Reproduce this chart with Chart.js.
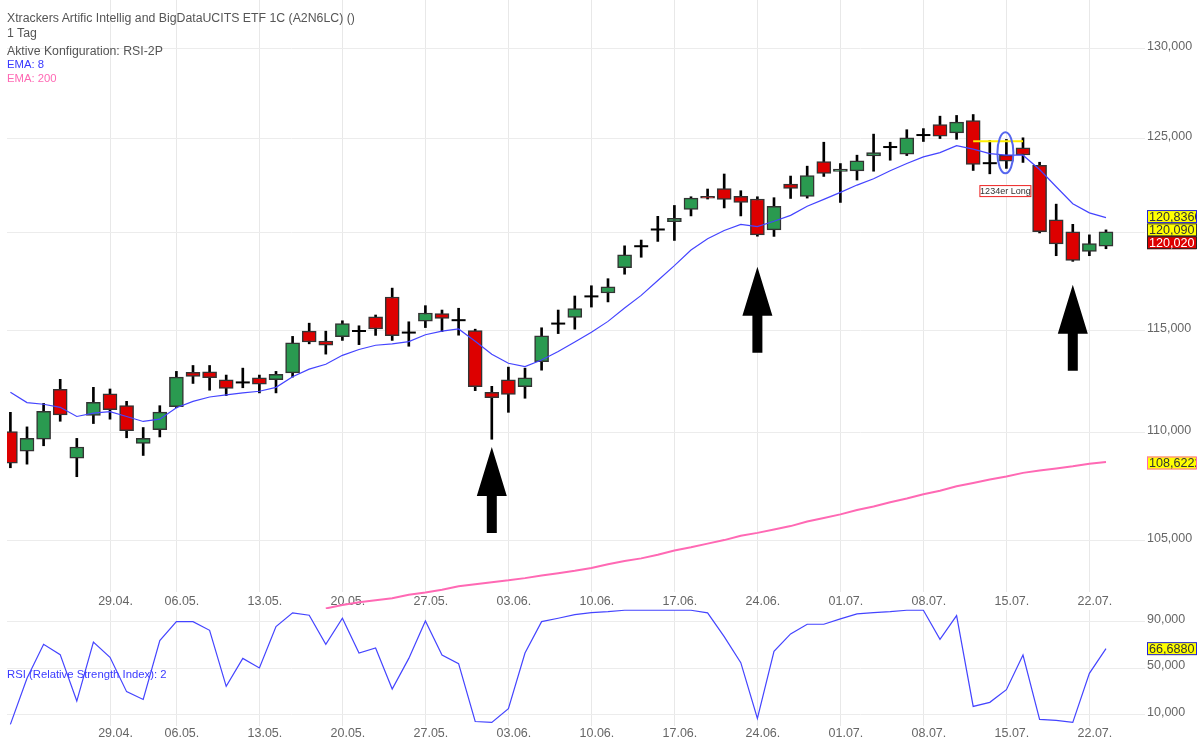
<!DOCTYPE html>
<html lang="de">
<head>
<meta charset="utf-8">
<title>Xtrackers Artific Intellig and BigData</title>
<script src="https://cdn.jsdelivr.net/npm/chart.js@4/dist/chart.umd.min.js"></script>
<style>
  html, body { margin: 0; padding: 0; background: #fff; }
  #stage { position: relative; width: 1200px; height: 743px; overflow: hidden; font-family: "Liberation Sans", Arial, sans-serif; }
  #stage canvas { position: absolute; left: 0; top: 0; }
  .txt { position: absolute; left: 7px; font-size: 12.3px; line-height: 14px; color: #555; white-space: nowrap; }
  .ind { font-size: 11.3px; }
</style>
</head>
<body>
<div id="stage">
  <canvas id="priceChart" width="1200" height="743"></canvas>
  <canvas id="rsiChart" width="1200" height="743"></canvas>
  <div class="txt" style="top:11px">Xtrackers Artific Intellig and BigDataUCITS ETF 1C (A2N6LC) ()</div>
  <div class="txt" style="top:26px">1 Tag</div>
  <div class="txt" style="top:44px">Aktive Konfiguration: RSI-2P</div>
  <div class="txt ind" style="top:57px;color:#3a3aff">EMA: 8</div>
  <div class="txt ind" style="top:71px;color:#ff69b4">EMA: 200</div>
  <div class="txt ind" style="top:667px;color:#3a3aff">RSI (Relative Strength Index): 2</div>
</div>
<script>
// ── Data ──
const weekTicks  = [6, 10, 15, 20, 25, 30, 35, 40, 45, 50, 55, 60, 65];
const weekLabels = ['29.04.', '06.05.', '13.05.', '20.05.', '27.05.', '03.06.', '10.06.', '17.06.', '24.06.', '01.07.', '08.07.', '15.07.', '22.07.'];
const priceTicks = [105, 110, 115, 120, 125, 130];
const rsiTicks   = [10, 50, 90];

const open = [
  110.07, 109.13, 109.70, 112.10, 108.80, 110.84, 111.89, 111.31, 109.50, 110.16,
  111.26, 112.93, 112.96, 112.57, 112.44, 112.67, 112.57, 112.91, 114.97, 114.48,
  114.69, 114.98, 115.69, 116.69, 114.90, 115.47, 115.85, 115.52, 115.00, 111.96,
  112.57, 112.23, 113.46, 115.35, 115.66, 116.72, 116.89, 118.19, 119.29, 120.16,
  120.57, 121.21, 121.90, 122.32, 121.90, 121.76, 120.14, 122.55, 121.90, 123.76,
  123.23, 123.26, 124.06, 124.54, 124.15, 125.19, 125.76, 125.31, 125.98, 123.67,
  124.10, 124.50, 123.55, 120.66, 120.04, 119.02, 119.29
];
const high = [
  110.99, 110.29, 111.42, 112.59, 109.74, 112.20, 112.12, 111.52, 110.26, 111.31,
  112.98, 113.27, 113.27, 112.80, 113.14, 112.80, 112.98, 114.71, 115.37, 114.97,
  115.49, 115.24, 115.78, 117.14, 115.44, 116.25, 116.03, 116.12, 115.07, 112.25,
  113.19, 113.14, 115.14, 116.03, 116.74, 117.26, 117.62, 119.31, 119.61, 120.85,
  121.42, 121.88, 122.29, 123.09, 122.20, 121.88, 121.83, 122.98, 123.51, 124.80,
  123.65, 124.10, 125.24, 124.80, 125.48, 125.54, 126.22, 126.26, 126.31, 124.89,
  124.95, 125.04, 123.72, 121.49, 120.43, 119.88, 120.14
];
const low = [
  108.35, 108.52, 109.39, 110.56, 107.93, 110.45, 110.66, 109.77, 108.93, 109.81,
  111.21, 112.39, 112.06, 111.80, 112.18, 111.93, 111.93, 112.70, 114.34, 113.83,
  114.51, 114.30, 114.76, 114.51, 114.22, 115.15, 114.95, 114.77, 112.04, 109.70,
  110.99, 111.67, 113.04, 114.85, 115.07, 116.18, 116.44, 117.85, 118.72, 119.54,
  119.59, 120.87, 121.76, 121.29, 120.87, 119.81, 119.80, 121.79, 121.81, 122.96,
  121.58, 122.77, 123.24, 123.83, 124.08, 124.84, 125.00, 124.96, 123.28, 123.10,
  123.39, 123.71, 119.98, 118.80, 118.51, 118.80, 119.16
];
const close = [
  108.57, 109.74, 111.04, 110.87, 109.33, 111.47, 111.12, 110.11, 109.74, 111.00,
  112.70, 112.73, 112.67, 112.15, 112.44, 112.36, 112.83, 114.39, 114.43, 114.27,
  115.35, 114.98, 115.08, 114.74, 114.90, 115.88, 115.61, 115.52, 112.23, 111.70,
  111.86, 112.67, 114.74, 115.35, 116.10, 116.72, 117.21, 118.85, 119.29, 120.16,
  120.74, 121.81, 121.81, 121.74, 121.58, 119.88, 121.38, 122.32, 123.01, 123.12,
  123.35, 123.79, 124.24, 124.54, 125.04, 125.19, 125.13, 125.89, 123.60, 123.67,
  123.78, 124.11, 120.04, 119.41, 118.56, 119.43, 120.04
];
const ema8 = [
  111.96, 111.46, 111.38, 111.23, 110.79, 110.95, 111.02, 110.79, 110.55, 110.66,
  111.21, 111.52, 111.73, 111.83, 111.93, 112.01, 112.20, 112.72, 113.09, 113.33,
  113.77, 114.06, 114.27, 114.34, 114.45, 114.79, 114.97, 115.08, 114.47, 113.82,
  113.38, 113.22, 113.54, 113.96, 114.43, 114.92, 115.46, 116.13, 116.77, 117.53,
  118.29, 119.09, 119.68, 120.11, 120.43, 120.31, 120.59, 120.90, 121.38, 121.74,
  122.11, 122.50, 122.84, 123.26, 123.65, 124.01, 124.24, 124.61, 124.43, 124.18,
  124.10, 124.10, 123.33, 122.41, 121.51, 121.03, 120.78
];
const ema200First = 19;
const ema200 = [
  101.93, 102.08, 102.20, 102.29, 102.38, 102.54, 102.64, 102.76, 102.92, 103.01,
  103.10, 103.18, 103.28, 103.40, 103.50, 103.61, 103.74, 103.90, 104.05, 104.17,
  104.33, 104.53, 104.67, 104.84, 105.00, 105.20, 105.33, 105.48, 105.64, 105.85,
  106.01, 106.18, 106.38, 106.54, 106.74, 106.91, 107.11, 107.27, 107.48, 107.64,
  107.80, 107.94, 108.11, 108.22, 108.32, 108.42, 108.54, 108.62
];
const rsi = [
  1.4, 41.1, 70.4, 61.5, 21.5, 72.4, 59.2, 29.6, 22.9, 73.6,
  90.0, 90.0, 82.5, 34.2, 58.3, 50.0, 85.7, 97.5, 95.5, 70.4,
  92.9, 62.9, 67.3, 31.9, 58.3, 90.6, 61.2, 53.7, 3.9, 3.1,
  14.9, 62.9, 90.0, 92.9, 96.0, 97.8, 98.6, 99.8, 99.8, 99.8,
  99.8, 99.8, 97.5, 77.0, 54.6, 6.5, 64.4, 79.4, 87.7, 87.7,
  92.3, 96.6, 97.8, 98.6, 99.8, 99.8, 74.7, 95.2, 16.9, 20.4,
  31.3, 61.2, 5.7, 4.8, 3.1, 45.4, 66.69
];

// Drawn annotations
const arrowDays   = [29, 45, 64];
const arrowPrices = [109.33, 118.23, 117.31];
const stopDays    = [58, 61];
const stopPrice   = 124.85;
const signalDay   = 60;
const signalPrice = 124.23;
const signalLabelPrice = 122.18;

const lastPriceTexts  = ['120,8360', '120,090', '120,020', '108,6222'];
const lastPriceValues = [120.836, 120.09, 120.02, 108.6222];
const lastRsiText     = '66,6880';
const lastRsiValue    = 66.688;

// ── Shared chart setup ──
const FONT = "'Liberation Sans', Arial, sans-serif";
const X_MIN = -0.205, X_MAX = 68.35;
const TICK_COLOR = '#666', GRID_COLOR = '#ececec';
const UP = '#2a9a50', DOWN = '#dd0000', EDGE = '#333', BLUE = '#4444ff', PINK = '#ff69b4';

Chart.defaults.font.family = FONT;
Chart.defaults.font.size = 12.5;
Chart.defaults.animation = false;

function noPadding(scale) {
  scale.paddingTop = scale.paddingBottom = scale.paddingLeft = scale.paddingRight = 0;
}

function xAxis(labelPad) {
  return {
    type: 'linear', min: X_MIN, max: X_MAX, offset: false, bounds: 'data',
    grid: { color: '#e8e8e8', drawTicks: false, offset: false },
    border: { display: false },
    ticks: {
      color: TICK_COLOR, padding: labelPad, labelOffset: 5.5, autoSkip: false, maxRotation: 0,
      callback: v => weekLabels[weekTicks.indexOf(v)]
    },
    afterBuildTicks: s => { s.ticks = weekTicks.map(v => ({ value: v })); },
    afterFit: s => { s.height = 20; noPadding(s); }
  };
}

function yAxis(type, min, max, tickValues, fmt) {
  return {
    type, min, max, position: 'right', bounds: 'data',
    grid: { color: GRID_COLOR, drawTicks: false },
    border: { display: false },
    ticks: { color: TICK_COLOR, padding: 2, labelOffset: -2, autoSkip: false, callback: fmt },
    afterBuildTicks: s => { s.ticks = tickValues.map(v => ({ value: v })); },
    afterFit: s => { s.width = 55; noPadding(s); }
  };
}

const num3 = v => Number(v).toFixed(3).replace('.', ',');

function valueBox(ctx, text, cy, fill, edge, textColor) {
  const x = 1147, w = 49, h = 13;
  ctx.save();
  ctx.fillStyle = fill;
  ctx.fillRect(x, cy - h / 2, w, h);
  ctx.strokeStyle = edge;
  ctx.lineWidth = 1;
  ctx.strokeRect(x + .5, cy - h / 2 + .5, w, h - 1);
  ctx.beginPath();
  ctx.rect(x, cy - h / 2, w, h);
  ctx.clip();
  ctx.fillStyle = textColor;
  ctx.font = '12.6px ' + FONT;
  ctx.textBaseline = 'middle';
  ctx.fillText(text, x + 2, cy + .5);
  ctx.restore();
}

// ── Price pane overlays: arrows, signal mark, last values ──
const priceOverlay = {
  id: 'priceOverlay',
  afterDatasetsDraw(chart) {
    const { ctx, scales: { x, y } } = chart;

    ctx.save();
    ctx.fillStyle = '#000';
    arrowDays.forEach((day, i) => {
      const px = x.getPixelForValue(day), tip = y.getPixelForValue(arrowPrices[i]);
      ctx.beginPath();
      ctx.moveTo(px, tip);
      ctx.lineTo(px + 15, tip + 49);
      ctx.lineTo(px + 5, tip + 49);
      ctx.lineTo(px + 5, tip + 86);
      ctx.lineTo(px - 5, tip + 86);
      ctx.lineTo(px - 5, tip + 49);
      ctx.lineTo(px - 15, tip + 49);
      ctx.closePath();
      ctx.fill();
    });

    const sx = x.getPixelForValue(signalDay) - 1;
    ctx.strokeStyle = '#5566ee';
    ctx.lineWidth = 2;
    ctx.beginPath();
    ctx.ellipse(sx, y.getPixelForValue(signalPrice), 8, 20.5, 0, 0, Math.PI * 2);
    ctx.stroke();

    const ly = y.getPixelForValue(signalLabelPrice);
    ctx.fillStyle = '#fff';
    ctx.strokeStyle = '#ee2222';
    ctx.lineWidth = 1;
    ctx.fillRect(sx - 26, ly - 6, 52, 12);
    ctx.strokeRect(sx - 26 + .5, ly - 6 + .5, 51, 11);
    ctx.fillStyle = '#333';
    ctx.font = '9px ' + FONT;
    ctx.textAlign = 'center';
    ctx.textBaseline = 'middle';
    ctx.fillText('1234er Long', sx, ly + .5);
    ctx.restore();

    const boxY = lastPriceValues.map(v => y.getPixelForValue(v));
    valueBox(ctx, lastPriceTexts[0], boxY[0], '#ffff00', '#2222dd', '#333');
    valueBox(ctx, lastPriceTexts[1], boxY[1] - 1, '#ffff00', '#333', '#333');
    valueBox(ctx, lastPriceTexts[2], boxY[2] + 10.5, '#dd0000', '#222', '#fff');
    valueBox(ctx, lastPriceTexts[3], boxY[3] + 1, '#ffff00', PINK, '#333');
  }
};

const rsiOverlay = {
  id: 'rsiOverlay',
  afterDatasetsDraw(chart) {
    valueBox(chart.ctx, lastRsiText, chart.scales.y.getPixelForValue(lastRsiValue), '#ffff00', '#2222dd', '#333');
  }
};

// ── Price chart: wicks and bodies are floating bars on a log scale ──
const days = open.map((_, i) => i);
const isDoji = i => open[i] === close[i];
const bodyDays = days.filter(i => !isDoji(i));

new Chart(document.getElementById('priceChart'), {
  type: 'bar',
  data: {
    datasets: [
      {
        label: 'Wicks', order: 5, grouped: false, barThickness: 2, backgroundColor: '#000', borderWidth: 0,
        data: days.map(i => ({ x: i, y: [low[i], high[i]] }))
      },
      {
        label: 'Bodies', order: 4, grouped: false, barThickness: 14, borderWidth: 1.5, borderColor: EDGE, borderSkipped: false,
        backgroundColor: bodyDays.map(i => close[i] >= open[i] ? UP : DOWN),
        data: bodyDays.map(i => ({ x: i, y: [open[i], close[i]] }))
      },
      {
        label: 'Doji', type: 'line', order: 3, showLine: false, pointStyle: 'line', pointRadius: 7,
        pointBorderColor: '#000', pointBorderWidth: 2,
        data: days.filter(isDoji).map(i => ({ x: i, y: close[i] }))
      },
      {
        label: 'EMA 8', type: 'line', order: 2, borderColor: BLUE, borderWidth: 1.2, pointRadius: 0, tension: 0,
        data: ema8.map((v, i) => ({ x: i, y: v }))
      },
      {
        label: 'EMA 200', type: 'line', order: 2, borderColor: PINK, borderWidth: 2, pointRadius: 0, tension: 0,
        clip: { left: 0, top: 0, right: 0, bottom: 17 },
        data: ema200.map((v, i) => ({ x: ema200First + i, y: v }))
      },
      {
        label: 'Stop', type: 'line', order: 1, borderColor: '#ffee00', borderWidth: 2, pointRadius: 0,
        data: stopDays.map(d => ({ x: d, y: stopPrice }))
      }
    ]
  },
  options: {
    responsive: false,
    devicePixelRatio: 1,
    layout: { autoPadding: false, padding: { left: 7, right: 0, top: 0, bottom: 131 } },
    plugins: { legend: { display: false }, tooltip: { enabled: false } },
    scales: {
      x: xAxis(2),
      y: yAxis('logarithmic', 102.66, 132.75, priceTicks, num3)
    }
  },
  plugins: [priceOverlay]
});

// ── RSI pane ──
new Chart(document.getElementById('rsiChart'), {
  type: 'line',
  data: {
    datasets: [{
      label: 'RSI', borderColor: BLUE, borderWidth: 1.2, pointRadius: 0, tension: 0, clip: 4,
      data: rsi.map((v, i) => ({ x: i, y: v }))
    }]
  },
  options: {
    responsive: false,
    devicePixelRatio: 1,
    layout: { autoPadding: false, padding: { left: 7, right: 0, top: 610, bottom: 0 } },
    plugins: { legend: { display: false }, tooltip: { enabled: false } },
    scales: {
      x: Object.assign(xAxis(0), { afterFit: s => { s.height = 17; noPadding(s); } }),
      y: yAxis('linear', 0, 100, rsiTicks, num3)
    }
  },
  plugins: [rsiOverlay]
});
</script>
</body>
</html>
